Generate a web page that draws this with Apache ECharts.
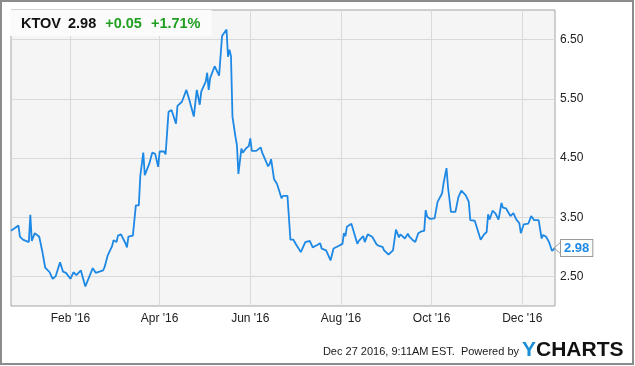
<!DOCTYPE html>
<html>
<head>
<meta charset="utf-8">
<script src="https://cdn.jsdelivr.net/npm/echarts@6/dist/echarts.min.js"></script>
<style>
html,body{margin:0;padding:0;background:#fff;}
#c{width:635px;height:366px;}
</style>
</head>
<body>
<div id="c"></div>
<script>
const ticker = 'KTOV';
const lastPrice = '2.98';
const change = '+0.05';
const changePct = '+1.71%';
const footerText = 'Dec 27 2016, 9:11AM EST.  Powered by';

const dates = [
'2015-12-23','2015-12-28','2015-12-29','2015-12-31','2016-01-04','2016-01-05','2016-01-06','2016-01-08',
'2016-01-11','2016-01-13','2016-01-14','2016-01-15','2016-01-18','2016-01-20','2016-01-22','2016-01-25',
'2016-01-27','2016-01-29','2016-02-01','2016-02-03','2016-02-05','2016-02-08','2016-02-11','2016-02-16',
'2016-02-18','2016-02-19','2016-02-23','2016-02-24','2016-02-26','2016-02-29','2016-03-01','2016-03-03',
'2016-03-04','2016-03-06','2016-03-09','2016-03-10','2016-03-11','2016-03-14','2016-03-15','2016-03-16',
'2016-03-18','2016-03-19','2016-03-21','2016-03-22','2016-03-25','2016-03-27','2016-03-29','2016-03-31',
'2016-04-01','2016-04-04','2016-04-05','2016-04-06','2016-04-07','2016-04-09','2016-04-10','2016-04-12',
'2016-04-13','2016-04-14','2016-04-16','2016-04-19','2016-04-21','2016-04-24','2016-04-26','2016-04-28',
'2016-04-29','2016-05-02','2016-05-03','2016-05-04','2016-05-05','2016-05-08','2016-05-11','2016-05-13',
'2016-05-16','2016-05-17','2016-05-18','2016-05-19','2016-05-20','2016-05-22','2016-05-23','2016-05-24',
'2016-05-26','2016-05-27','2016-05-29','2016-05-31','2016-06-01','2016-06-02','2016-06-05','2016-06-06',
'2016-06-08','2016-06-09','2016-06-10','2016-06-13','2016-06-14','2016-06-15','2016-06-17','2016-06-19',
'2016-06-22','2016-06-23','2016-06-26','2016-06-28','2016-06-30','2016-07-02','2016-07-05','2016-07-08',
'2016-07-11','2016-07-13','2016-07-16','2016-07-18','2016-07-19','2016-07-20','2016-07-22','2016-07-25',
'2016-07-27','2016-07-30','2016-08-02','2016-08-03','2016-08-04','2016-08-05','2016-08-08','2016-08-10',
'2016-08-12','2016-08-13','2016-08-14','2016-08-16','2016-08-17','2016-08-19','2016-08-22','2016-08-25',
'2016-08-27','2016-08-29','2016-08-30','2016-08-31','2016-09-02','2016-09-05','2016-09-07','2016-09-09',
'2016-09-10','2016-09-11','2016-09-13','2016-09-15','2016-09-16','2016-09-18','2016-09-20','2016-09-22',
'2016-09-24','2016-09-26','2016-09-27','2016-09-28','2016-09-30','2016-10-03','2016-10-05','2016-10-06',
'2016-10-08','2016-10-09','2016-10-11','2016-10-12','2016-10-14','2016-10-17','2016-10-19','2016-10-21',
'2016-10-24','2016-10-26','2016-10-27','2016-10-30','2016-10-31','2016-11-03','2016-11-05','2016-11-07',
'2016-11-08','2016-11-09','2016-11-11','2016-11-13','2016-11-15','2016-11-17','2016-11-18','2016-11-20',
'2016-11-23','2016-11-25','2016-11-27','2016-11-29','2016-11-30','2016-12-02','2016-12-05','2016-12-07',
'2016-12-09','2016-12-12','2016-12-14','2016-12-15','2016-12-17','2016-12-19','2016-12-21','2016-12-23'
];
const prices = [
3.27,3.36,3.17,3.12,3.08,3.54,3.10,3.23,
3.17,2.93,2.91,2.65,2.57,2.46,2.50,2.74,
2.58,2.56,2.46,2.57,2.52,2.60,2.33,2.64,
2.56,2.59,2.60,2.66,2.85,3.01,3.11,3.08,
3.19,3.21,3.06,2.99,3.17,3.19,3.22,3.70,
3.70,4.20,4.59,4.21,4.40,4.59,4.57,4.35,
4.61,4.61,4.56,4.92,5.28,5.31,5.33,5.08,
5.38,5.37,5.45,5.65,5.48,5.20,5.65,5.40,
5.62,5.79,5.94,5.65,5.85,6.05,5.89,6.56,
6.67,6.21,6.33,6.22,5.20,4.86,4.72,4.23,
4.66,4.59,4.66,4.70,4.83,4.62,4.62,4.61,
4.68,4.59,4.57,4.36,4.40,4.48,4.14,4.06,
3.82,3.86,3.86,3.12,3.12,3.03,2.91,3.08,
3.10,2.99,3.03,3.06,2.97,3.00,2.94,2.77,
2.97,3.01,3.05,3.23,3.18,3.34,3.39,3.22,
3.05,3.10,3.08,3.18,3.08,3.21,3.17,3.04,
3.01,3.00,2.94,2.97,2.87,2.94,3.29,3.16,
3.21,3.18,3.14,3.22,3.17,3.12,3.08,3.23,
3.26,3.27,3.62,3.51,3.47,3.48,3.76,3.78,
3.90,4.07,4.33,4.01,3.59,3.59,3.84,3.95,
3.87,3.76,3.45,3.44,3.42,3.12,3.20,3.25,
3.55,3.46,3.61,3.56,3.46,3.74,3.66,3.65,
3.52,3.57,3.46,3.40,3.23,3.38,3.39,3.52,
3.45,3.45,3.14,3.20,3.17,3.08,2.93,2.98
];
const xTickDates = ['2016-02-01','2016-04-01','2016-06-01','2016-08-01','2016-10-01','2016-12-01'];
const yTicks = [2.5, 3.5, 4.5, 5.5, 6.5];
const xMin = '2015-12-23';
const xMax = '2016-12-23';
const yMin = 2.0, yMax = 7.0;

const MONTHS = ['Jan','Feb','Mar','Apr','May','Jun','Jul','Aug','Sep','Oct','Nov','Dec'];
function ts(s){ const p = s.split('-').map(Number); return new Date(p[0], p[1]-1, p[2]).getTime(); }

const lineData = dates.map((d, i) => [ts(d), prices[i]]);
const xTicks = xTickDates.map(ts);
const LINE = '#1e88e5';

const chart = echarts.init(document.getElementById('c'), null, {renderer: 'canvas'});
const baseGraphic = [
  {id: 'frame', type: 'rect', shape: {x: 1, y: 1, width: 632, height: 363}, style: {fill: 'none', stroke: '#8c8c8c', lineWidth: 2}, z: 100},
  {id: 'foot', type: 'text', right: 116, top: 346, style: {text: footerText, fill: '#1a1a1a', font: '11px "Liberation Sans"'}},
  {id: 'logo', type: 'text', left: 522, top: 340, style: {
    text: '{y|Y}{c|CHARTS}',
    rich: {
      y: {fill: '#1a8fd8', font: 'bold 21px "Liberation Sans"'},
      c: {fill: '#111', font: 'bold 21px "Liberation Sans"'}
    }
  }}
];
chart.setOption({
  animation: false,
  backgroundColor: '#ffffff',
  title: {
    left: 10, top: 10,
    backgroundColor: '#fbfbfb',
    padding: [6, 11, 5, 11],
    text: '{a|' + ticker + '}{b|' + lastPrice + '}{c|' + change + '}{d|' + changePct + '}',
    textStyle: {
      rich: {
        a: {fontFamily: 'Liberation Sans', fontWeight: 'bold', fontSize: 14.5, color: '#111', padding: [0, 7, 0, 0]},
        b: {fontFamily: 'Liberation Sans', fontWeight: 'bold', fontSize: 14.5, color: '#111', padding: [0, 9, 0, 0]},
        c: {fontFamily: 'Liberation Sans', fontWeight: 'bold', fontSize: 14.5, color: '#1f9e1f', padding: [0, 9, 0, 0]},
        d: {fontFamily: 'Liberation Sans', fontWeight: 'bold', fontSize: 14.5, color: '#1f9e1f'}
      }
    }
  },
  grid: {
    left: 11, right: 80, top: 10, bottom: 60,
    show: true, backgroundColor: '#f5f5f5', borderColor: '#a3a3a3', borderWidth: 1
  },
  xAxis: {
    type: 'value',
    min: ts(xMin), max: ts(xMax),
    axisLine: {show: false},
    axisTick: {show: false, customValues: xTicks},
    splitLine: {show: true, lineStyle: {color: '#d9d9d9', width: 1}},
    axisLabel: {
      customValues: xTicks,
      margin: 7,
      color: '#222',
      fontFamily: 'Liberation Sans',
      fontSize: 12,
      formatter: function (v) {
        const d = new Date(v);
        return MONTHS[d.getMonth()] + " '" + String(d.getFullYear()).slice(2);
      }
    }
  },
  yAxis: {
    type: 'value',
    position: 'right',
    min: yMin, max: yMax,
    axisLine: {show: false},
    axisTick: {show: false, customValues: yTicks},
    splitLine: {show: true, lineStyle: {color: '#d9d9d9', width: 1}},
    axisLabel: {
      customValues: yTicks,
      margin: 5,
      color: '#222',
      fontFamily: 'Liberation Sans',
      fontSize: 12,
      formatter: v => v.toFixed(2)
    }
  },
  graphic: baseGraphic,
  series: [{
    type: 'line',
    data: lineData,
    showSymbol: false,
    symbol: 'none',
    lineStyle: {color: LINE, width: 1.8},
    endLabel: {
      show: true,
      formatter: lastPrice,
      distance: 6,
      color: LINE,
      fontWeight: 'bold',
      fontSize: 13,
      fontFamily: 'Liberation Sans',
      backgroundColor: '#ffffff',
      borderColor: '#9a9a9a',
      borderWidth: 1,
      padding: [2, 3, 1, 3]
    }
  }]
});

// pointer arrow of the last-value tag, placed from the last data point through the axes
const lastPt = lineData[lineData.length - 1];
const px = chart.convertToPixel({gridIndex: 0}, lastPt);
chart.setOption({
  graphic: baseGraphic.concat([{
    id: 'tagArrow', type: 'polyline', z: 50,
    shape: {points: [[px[0] + 6, px[1] - 6], [px[0] - 1, px[1]], [px[0] + 6, px[1] + 6]]},
    style: {fill: 'none', stroke: '#9a9a9a', lineWidth: 1}
  }])
});
</script>
</body>
</html>
